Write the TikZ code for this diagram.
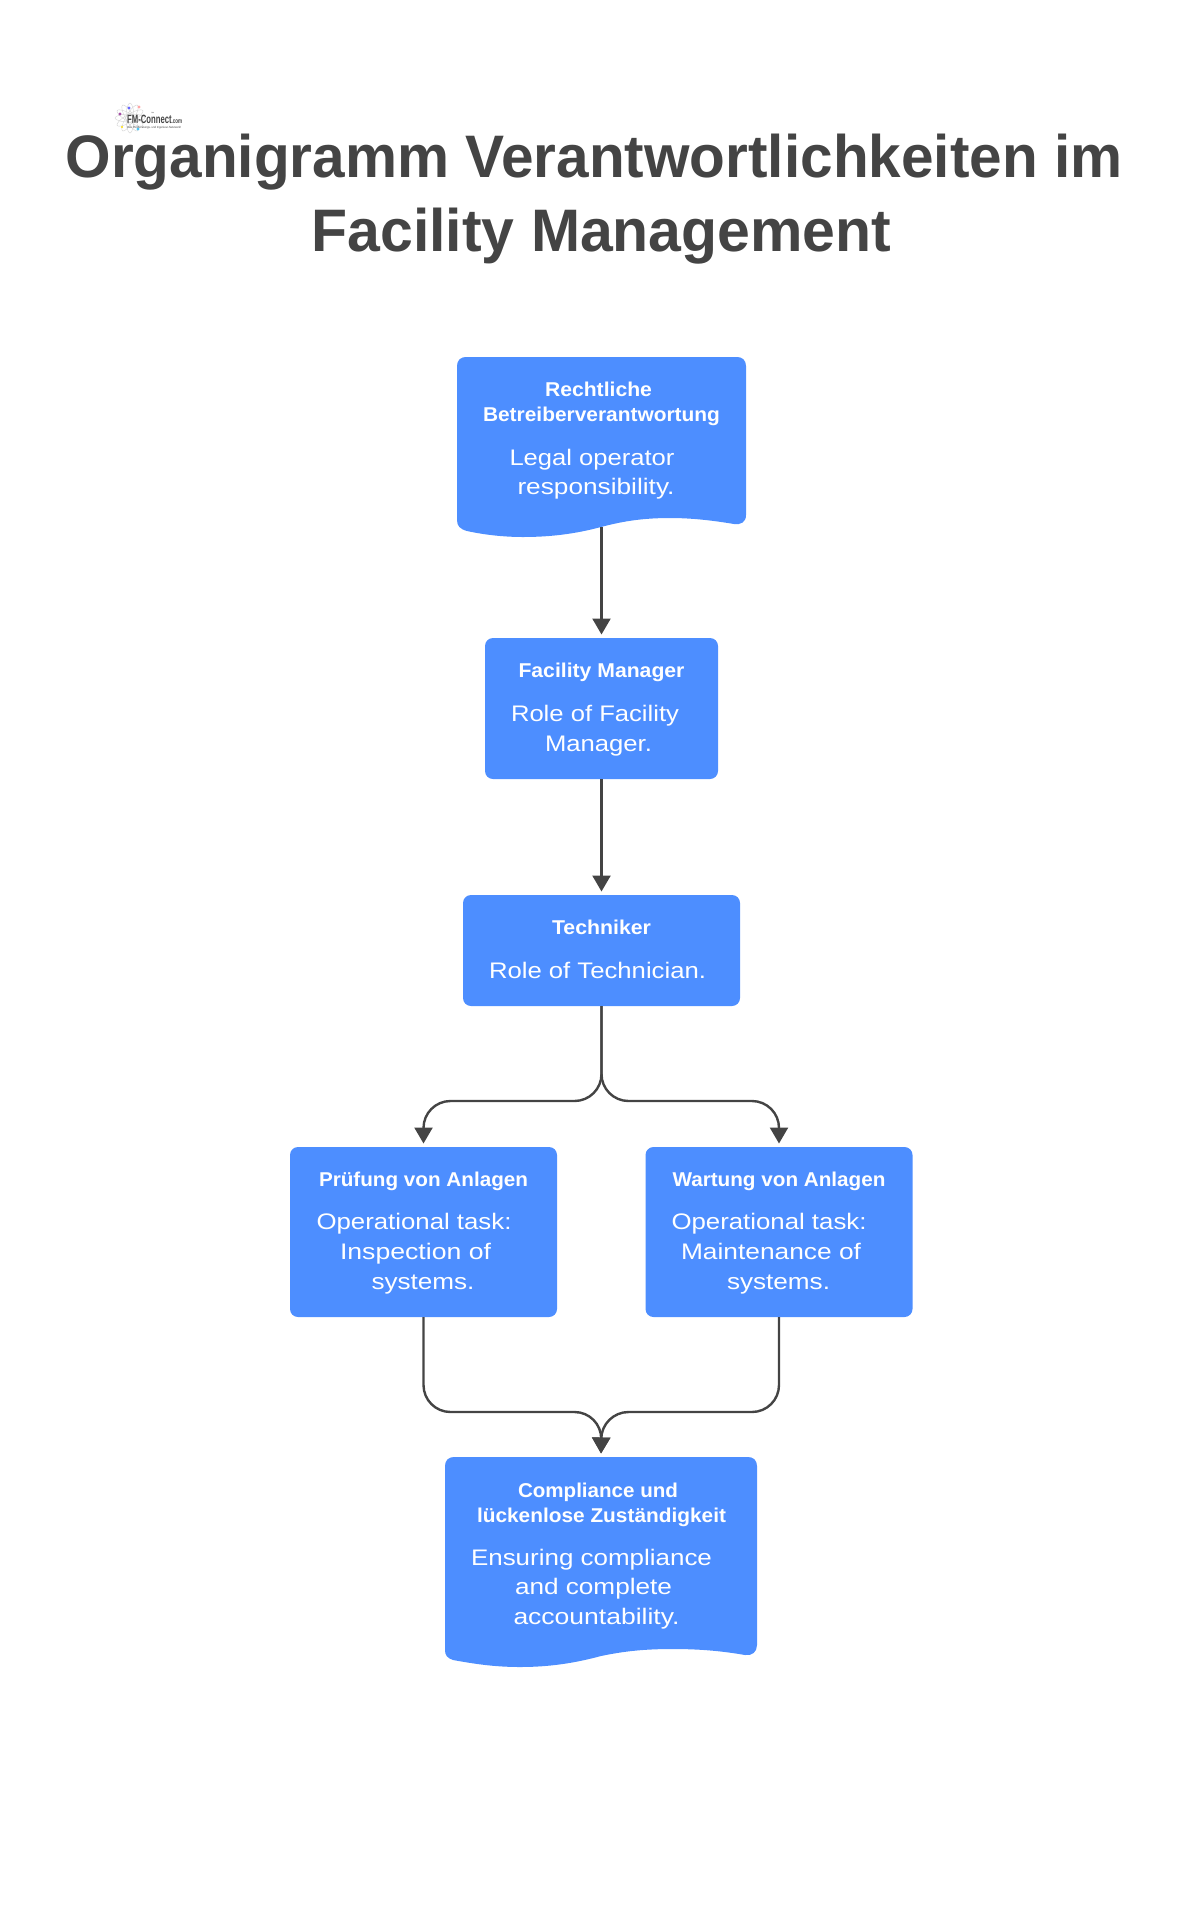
\documentclass[tikz,border=0pt]{standalone}
\usepackage{fontspec}
\setmainfont{Liberation Sans}
\usetikzlibrary{arrows.meta}
\definecolor{boxblue}{HTML}{4D8EFF}
\definecolor{ink}{HTML}{444444}
\newlength\fitlen
\newcommand\fitw[2]{\settowidth\fitlen{#2}\pgfmathsetmacro\fitr{#1/\fitlen}\scalebox{\fitr}[1]{#2}}
\tikzset{
  plainbox/.style={fill=boxblue,draw=none,rounded corners=8pt,inner sep=0pt,outer sep=0pt,minimum width=#1},
  framebox/.style={draw=none,fill=none,inner sep=0pt,outer sep=0pt,minimum width=#1},
  wave/.style={fill=boxblue,draw=none},
  conn/.style={draw=ink,line width=2.4pt,-{Triangle[width=18pt,length=16pt]},shorten >=3.5pt},
  bendconn/.style={conn,rounded corners=27pt},
  headline/.style={anchor=base,inner sep=0pt,text=ink,font=\fontsize{60}{60}\selectfont\bfseries},
  boxhead/.style={anchor=base,inner sep=0pt,text=white,font=\fontsize{20}{20}\selectfont\bfseries},
  boxbody/.style={anchor=base,inner sep=0pt,text=white,font=\fontsize{22.5}{22.5}\selectfont},
}
\begin{document}
\begin{tikzpicture}[x=1pt,y=-1pt]
\useasboundingbox (0,0) rectangle (1204,1920);
% title
\node[headline] (t1) at (594,177.5) {\fitw{1057}{Organigramm Verantwortlichkeiten im}};
\node[headline] (t2) at (601.5,251) {\fitw{580}{Facility Management}};
% logo
\begin{scope}[shift={(130,118)}]
  \foreach \a in {0,30,...,150}{\draw[rotate=\a,draw=gray!35,line width=0.4pt] (0,0) ellipse (15pt and 4pt);}
  \fill[violet!70] (-10,-4) circle (1.7pt);
  \fill[blue!60] (-1,-10) circle (1.7pt);
  \fill[red!35] (9,-11) circle (1.6pt);
  \fill[cyan!70] (8,11) circle (1.7pt);
  \fill[yellow!80!orange] (-8,9) circle (1.2pt);
\end{scope}
\node[anchor=base west,inner sep=0pt,text=ink,font=\fontsize{12}{12}\selectfont\bfseries] (logo) at (127,123) {\fitw{55}{FM-Connect{\fontsize{7}{7}\selectfont.com}}};
\node[anchor=base west,inner sep=0pt,text=ink,font=\fontsize{3}{3}\selectfont] (logotm) at (151,114) {™};
\node[anchor=base west,inner sep=0pt,text=ink,font=\fontsize{3}{3}\selectfont] (logosub) at (127,128) {\fitw{54}{Das FM-Beratungs- und Ingenieur-Netzwerk!}};
% document shaped boxes
\fill[wave] (457,520) -- (457,366) .. controls (457,360) and (461,357) .. (466,357) -- (737,357) .. controls (742,357) and (746,360) .. (746,366) -- (746,515)
  .. controls (746,522) and (741,525) .. (734,524)
  .. controls (710,520) and (690,518) .. (670,518)
  .. controls (640,518) and (620,522) .. (601,527)
  .. controls (575,534) and (550,537) .. (523,537)
  .. controls (505,537) and (485,535) .. (467,531)
  .. controls (460,529) and (457,526) .. (457,520) -- cycle;
\fill[wave] (445,1650) -- (445,1466) .. controls (445,1460) and (449,1457) .. (454,1457) -- (748,1457) .. controls (753,1457) and (757,1460) .. (757,1466) -- (757,1645)
  .. controls (757,1652) and (752,1656) .. (745,1655)
  .. controls (722,1651) and (700,1649) .. (673,1649)
  .. controls (645,1649) and (625,1651) .. (601,1656)
  .. controls (575,1663) and (550,1667) .. (520,1667)
  .. controls (495,1667) and (475,1664) .. (453,1660)
  .. controls (447,1658) and (445,1655) .. (445,1650) -- cycle;
% boxes
\node[framebox=289pt,minimum height=170pt] (legal) at (601.5,442) {};
\node[plainbox=233pt,minimum height=141pt] (fm) at (601.5,708.5) {};
\node[plainbox=277pt,minimum height=111pt] (tech) at (601.5,950.5) {};
\node[plainbox=267pt,minimum height=170pt] (insp) at (423.5,1232) {};
\node[plainbox=267pt,minimum height=170pt] (maint) at (779,1232) {};
\node[framebox=312pt,minimum height=198pt] (comp) at (601,1556) {};
% texts
\node[boxhead] (a1) at (598.5,396.5) {\fitw{107}{Rechtliche}};
\node[boxhead] (a2) at (601.5,421.5) {\fitw{237}{Betreiberverantwortung}};
\node[boxbody] (a3) at (592,465) {\fitw{165}{Legal operator}};
\node[boxbody] (a4) at (596,494) {\fitw{157}{responsibility.}};
\node[boxhead] (b1) at (601.5,677.5) {\fitw{166}{Facility Manager}};
\node[boxbody] (b2) at (595,721) {\fitw{168}{Role of Facility}};
\node[boxbody] (b3) at (598.5,751) {\fitw{107}{Manager.}};
\node[boxhead] (c1) at (601.5,934.5) {\fitw{99}{Techniker}};
\node[boxbody] (c2) at (597.5,978.5) {\fitw{217}{Role of Technician.}};
\node[boxhead] (d1) at (423.5,1186) {\fitw{209}{Prüfung von Anlagen}};
\node[boxbody] (d2) at (414,1229.5) {\fitw{195}{Operational task:}};
\node[boxbody] (d3) at (415.5,1259) {\fitw{151}{Inspection of}};
\node[boxbody] (d4) at (423,1289) {\fitw{103}{systems.}};
\node[boxhead] (e1) at (779,1186) {\fitw{213}{Wartung von Anlagen}};
\node[boxbody] (e2) at (769,1229.5) {\fitw{195}{Operational task:}};
\node[boxbody] (e3) at (771,1259) {\fitw{180}{Maintenance of}};
\node[boxbody] (e4) at (778.5,1289) {\fitw{103}{systems.}};
\node[boxhead] (f1) at (598,1497) {\fitw{160}{Compliance und}};
\node[boxhead] (f2) at (601.5,1522) {\fitw{249}{lückenlose Zuständigkeit}};
\node[boxbody] (f3) at (591.5,1565) {\fitw{241}{Ensuring compliance}};
\node[boxbody] (f4) at (593.5,1594.5) {\fitw{157}{and complete}};
\node[boxbody] (f5) at (596.5,1624.5) {\fitw{166}{accountability.}};
% connectors
\coordinate (split) at (601.5,1101);
\coordinate (merge) at (601.5,1412);
\draw[conn] (legal.south) -- (fm.north);
\draw[conn] (fm.south) -- (tech.north);
\draw[bendconn] (tech.south) -- (split) -- (split -| insp.north) -- (insp.north);
\draw[bendconn] (tech.south) -- (split) -- (split -| maint.north) -- (maint.north);
\draw[bendconn] (insp.south) -- (insp.south |- merge) -- (merge) -- (comp.north);
\draw[bendconn] (maint.south) -- (maint.south |- merge) -- (merge) -- (comp.north);
\end{tikzpicture}
\end{document}
